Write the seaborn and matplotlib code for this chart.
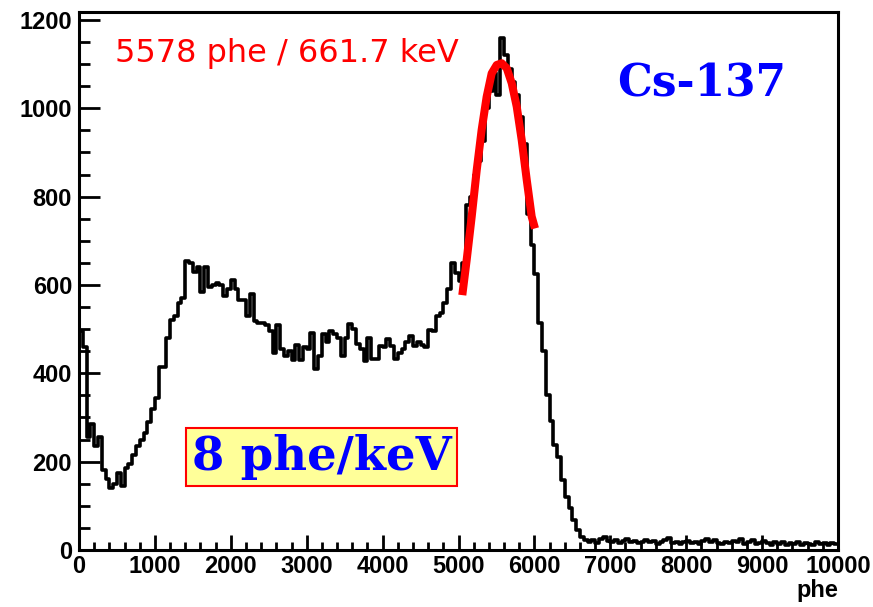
import numpy as np
import pandas as pd
import matplotlib
matplotlib.use("Agg")
import matplotlib.pyplot as plt
import seaborn as sns
from matplotlib.ticker import MultipleLocator

# ---------------- data ----------------
bin_lo, bin_hi, bin_width = 0, 10000, 50

# 0 - 2500 phe (Compton region)
counts_compton = [496, 460, 255, 285, 235, 255, 180, 160, 140, 150,
                  175, 145, 185, 195, 215, 235, 250, 265, 290, 320,
                  345, 415, 415, 480, 520, 530, 560, 570, 655, 650,
                  630, 640, 585, 640, 595, 600, 605, 600, 575, 590,
                  612, 590, 567, 565, 530, 580, 519, 515, 515, 510]
# 2500 - 5000 phe (valley)
counts_valley = [495, 445, 510, 455, 440, 450, 430, 465, 430, 460,
                 455, 492, 410, 440, 488, 470, 496, 489, 481, 440,
                 480, 511, 500, 466, 455, 428, 480, 432, 432, 462,
                 460, 477, 462, 432, 445, 455, 470, 485, 462, 470,
                 465, 460, 498, 495, 530, 537, 560, 590, 650, 628]
# 5000 - 6700 phe (photo peak)
counts_peak = [610, 650, 780, 800, 850, 880, 925, 1000, 1040, 1080,
               1030, 1160, 1120, 1090, 1060, 1030, 980, 920, 760, 690,
               624, 515, 451, 350, 293, 237, 210, 158, 120, 94,
               68, 45, 30, 22]
# 6700 - 10000 phe (tail)
counts_tail = [18, 22, 15, 25, 30, 20, 18, 22, 16, 20,
               24, 18, 21, 15, 19, 23, 17, 20, 14, 18,
               22, 28, 16, 19, 13, 17, 21, 15, 18, 14,
               20, 24, 19, 22, 16, 13, 18, 15, 21, 17,
               26, 14, 18, 22, 13, 16, 20, 15, 12, 17,
               14, 19, 11, 15, 13, 18, 12, 16, 14, 11,
               17, 13, 15, 12, 16, 14]

# gaussian fit curve
fit_x = [5050, 5108, 5174, 5240, 5305, 5371, 5437, 5503, 5569,
         5635, 5701, 5767, 5833, 5899, 5964, 6008]
fit_y = [577, 657, 755, 860, 951, 1026, 1079, 1098, 1102,
         1091, 1057, 1004, 928, 838, 755, 728]

x_ticks = [0, 1000, 2000, 3000, 4000, 5000, 6000, 7000, 8000, 9000, 10000]
y_ticks = [0, 200, 400, 600, 800, 1000, 1200]

fit_text = "5578 phe / 661.7 keV"
source_text = "Cs-137"
gain_text = "8 phe/keV"
x_label = "phe"

# ---------------- plotting ----------------
sns.set_theme(style="white")
plt.rcParams['font.family'] = ['DejaVu Sans']

counts = np.array(counts_compton + counts_valley + counts_peak + counts_tail, dtype=float)
n_bins = len(counts)
centers = bin_lo + bin_width * (np.arange(n_bins) + 0.5)
df = pd.DataFrame({"phe": centers, "count": counts})
fit_df = pd.DataFrame({"phe": fit_x, "count": fit_y})

W, H = 873, 607
fig = plt.figure(figsize=(W / 100, H / 100), dpi=100)
ax = fig.add_axes([79 / W, 1 - 550 / H, (838 - 79) / W, (550 - 12) / H])

sns.histplot(data=df, x="phe", weights="count", binwidth=bin_width,
             binrange=(bin_lo, bin_hi), element="step",
             fill=False, color="black", linewidth=2.6, ax=ax)
sns.lineplot(data=fit_df, x="phe", y="count", color="#ff0000", linewidth=5.8,
             ax=ax, solid_capstyle="butt", solid_joinstyle="round")

ax.set_xlim(bin_lo, bin_hi)
ax.set_ylim(0, 1218)
ax.set_xlabel("")
ax.set_ylabel("")

tick_font = dict(family="Liberation Sans", weight="bold", size=17)
ax.set_xticks(x_ticks)
ax.set_xticklabels([str(t) for t in x_ticks], fontdict=tick_font)
ax.set_yticks(y_ticks)
ax.set_yticklabels([str(t) for t in y_ticks], fontdict=tick_font)
ax.xaxis.set_minor_locator(MultipleLocator(200))
ax.yaxis.set_minor_locator(MultipleLocator(50))

ax.tick_params(axis="both", which="both", direction="in", top=False, right=False,
               bottom=True, left=True, width=2, color="black", labelcolor="black")
ax.tick_params(axis="x", which="major", length=11, pad=3.5)
ax.tick_params(axis="x", which="minor", length=5.5)
ax.tick_params(axis="y", which="major", length=15, pad=5)
ax.tick_params(axis="y", which="minor", length=8)

for sp in ax.spines.values():
    sp.set_visible(True)
    sp.set_color("black")
    sp.set_linewidth(2.2)

fig.text(838 / W, 1 - 597 / H, x_label, ha="right", va="baseline",
         family="Liberation Sans", weight="bold", size=17, color="black")

fig.text(115 / W, 1 - 62 / H, fit_text, ha="left", va="baseline",
         family="DejaVu Sans", size=23, color="#ff0000")

fig.text(617 / W, 1 - 97 / H, source_text, ha="left", va="baseline",
         family="DejaVu Serif", weight="bold", size=31.5, color="#0000ff")

fig.text(192 / W, 1 - 470 / H, gain_text, ha="left", va="baseline",
         family="DejaVu Serif", weight="bold", size=33.5, color="#0000ff",
         bbox=dict(boxstyle="square,pad=0.12", facecolor="#ffff99",
                   edgecolor="#ff0000", linewidth=1.5))

fig.savefig("out.png", dpi=100, facecolor="white")
